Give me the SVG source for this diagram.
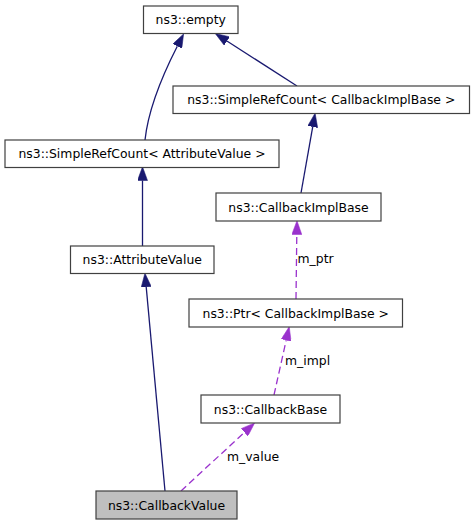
<svg xmlns="http://www.w3.org/2000/svg" width="475" height="525" viewBox="0 0 475 525">
<style>
.box{fill:#ffffff;stroke:#404040;stroke-width:1.2}
.cur{fill:#bfbfbf;stroke:#404040;stroke-width:1.2}
text{font-family:"DejaVu Sans","Liberation Sans",sans-serif;font-size:12.4px;fill:#000}
.c{text-anchor:middle}
.inh{fill:none;stroke:#191970;stroke-width:1.3}
.use{fill:none;stroke:#9a32cd;stroke-width:1.3;stroke-dasharray:7,4}
</style>
<defs>
<marker id="an" markerUnits="userSpaceOnUse" markerWidth="14" markerHeight="10" refX="0" refY="4.7" orient="auto" viewBox="0 0 13 9.4">
<path d="M0,0 L13,4.7 L0,9.4 z" fill="#191970" stroke="#191970" stroke-width="0.5"/>
</marker>
<marker id="ap" markerUnits="userSpaceOnUse" markerWidth="14" markerHeight="10" refX="0" refY="4.7" orient="auto" viewBox="0 0 13 9.4">
<path d="M0,0 L13,4.7 L0,9.4 z" fill="#9a32cd" stroke="#9a32cd" stroke-width="0.5"/>
</marker>
</defs>
<g id="edges">
<path class="inh" d="M145,140 C148,112 160,80 177.3,46.2" marker-end="url(#an)"/>
<path class="inh" d="M297,86 L226.9,41" marker-end="url(#an)"/>
<path class="inh" d="M142.5,246 L142.5,180.5" marker-end="url(#an)"/>
<path class="inh" d="M301,193 L312.7,126.8" marker-end="url(#an)"/>
<path class="inh" d="M165,491 L146.2,286.9" marker-end="url(#an)"/>
<path class="use" d="M296,299 L296.8,234.5" marker-end="url(#ap)"/>
<text x="297.5" y="263">m_ptr</text>
<path class="use" d="M274,395 L286.2,340.2" marker-end="url(#ap)"/>
<text x="285" y="365">m_impl</text>
<path class="use" d="M181,491 L244.5,432.3" marker-end="url(#ap)"/>
<text x="227" y="460.5">m_value</text>
</g>
<g id="empty">
<rect class="box" x="143.5" y="6" width="94.5" height="27.5"/>
<text class="c" x="190.75" y="24.2">ns3::empty</text>
</g>
<g id="srcCallbackImplBase">
<rect class="box" x="173" y="86" width="296.5" height="27.5"/>
<text class="c" x="321.25" y="104.3">ns3::SimpleRefCount&lt; CallbackImplBase &gt;</text>
</g>
<g id="srcAttributeValue">
<rect class="box" x="5" y="140" width="274" height="27.5"/>
<text class="c" x="142" y="158.3">ns3::SimpleRefCount&lt; AttributeValue &gt;</text>
</g>
<g id="CallbackImplBase">
<rect class="box" x="216" y="193" width="165" height="28"/>
<text class="c" x="298.5" y="211.5">ns3::CallbackImplBase</text>
</g>
<g id="AttributeValue">
<rect class="box" x="70.5" y="246" width="143.5" height="27.5"/>
<text class="c" x="142.25" y="264.3">ns3::AttributeValue</text>
</g>
<g id="PtrCallbackImplBase">
<rect class="box" x="189" y="299" width="213.5" height="28"/>
<text class="c" x="295.75" y="317.5">ns3::Ptr&lt; CallbackImplBase &gt;</text>
</g>
<g id="CallbackBase">
<rect class="box" x="201" y="395" width="139" height="28"/>
<text class="c" x="270.5" y="413.5">ns3::CallbackBase</text>
</g>
<g id="CallbackValue">
<rect class="cur" x="96" y="491" width="141" height="28"/>
<text class="c" x="166.5" y="509.5">ns3::CallbackValue</text>
</g>
</svg>
